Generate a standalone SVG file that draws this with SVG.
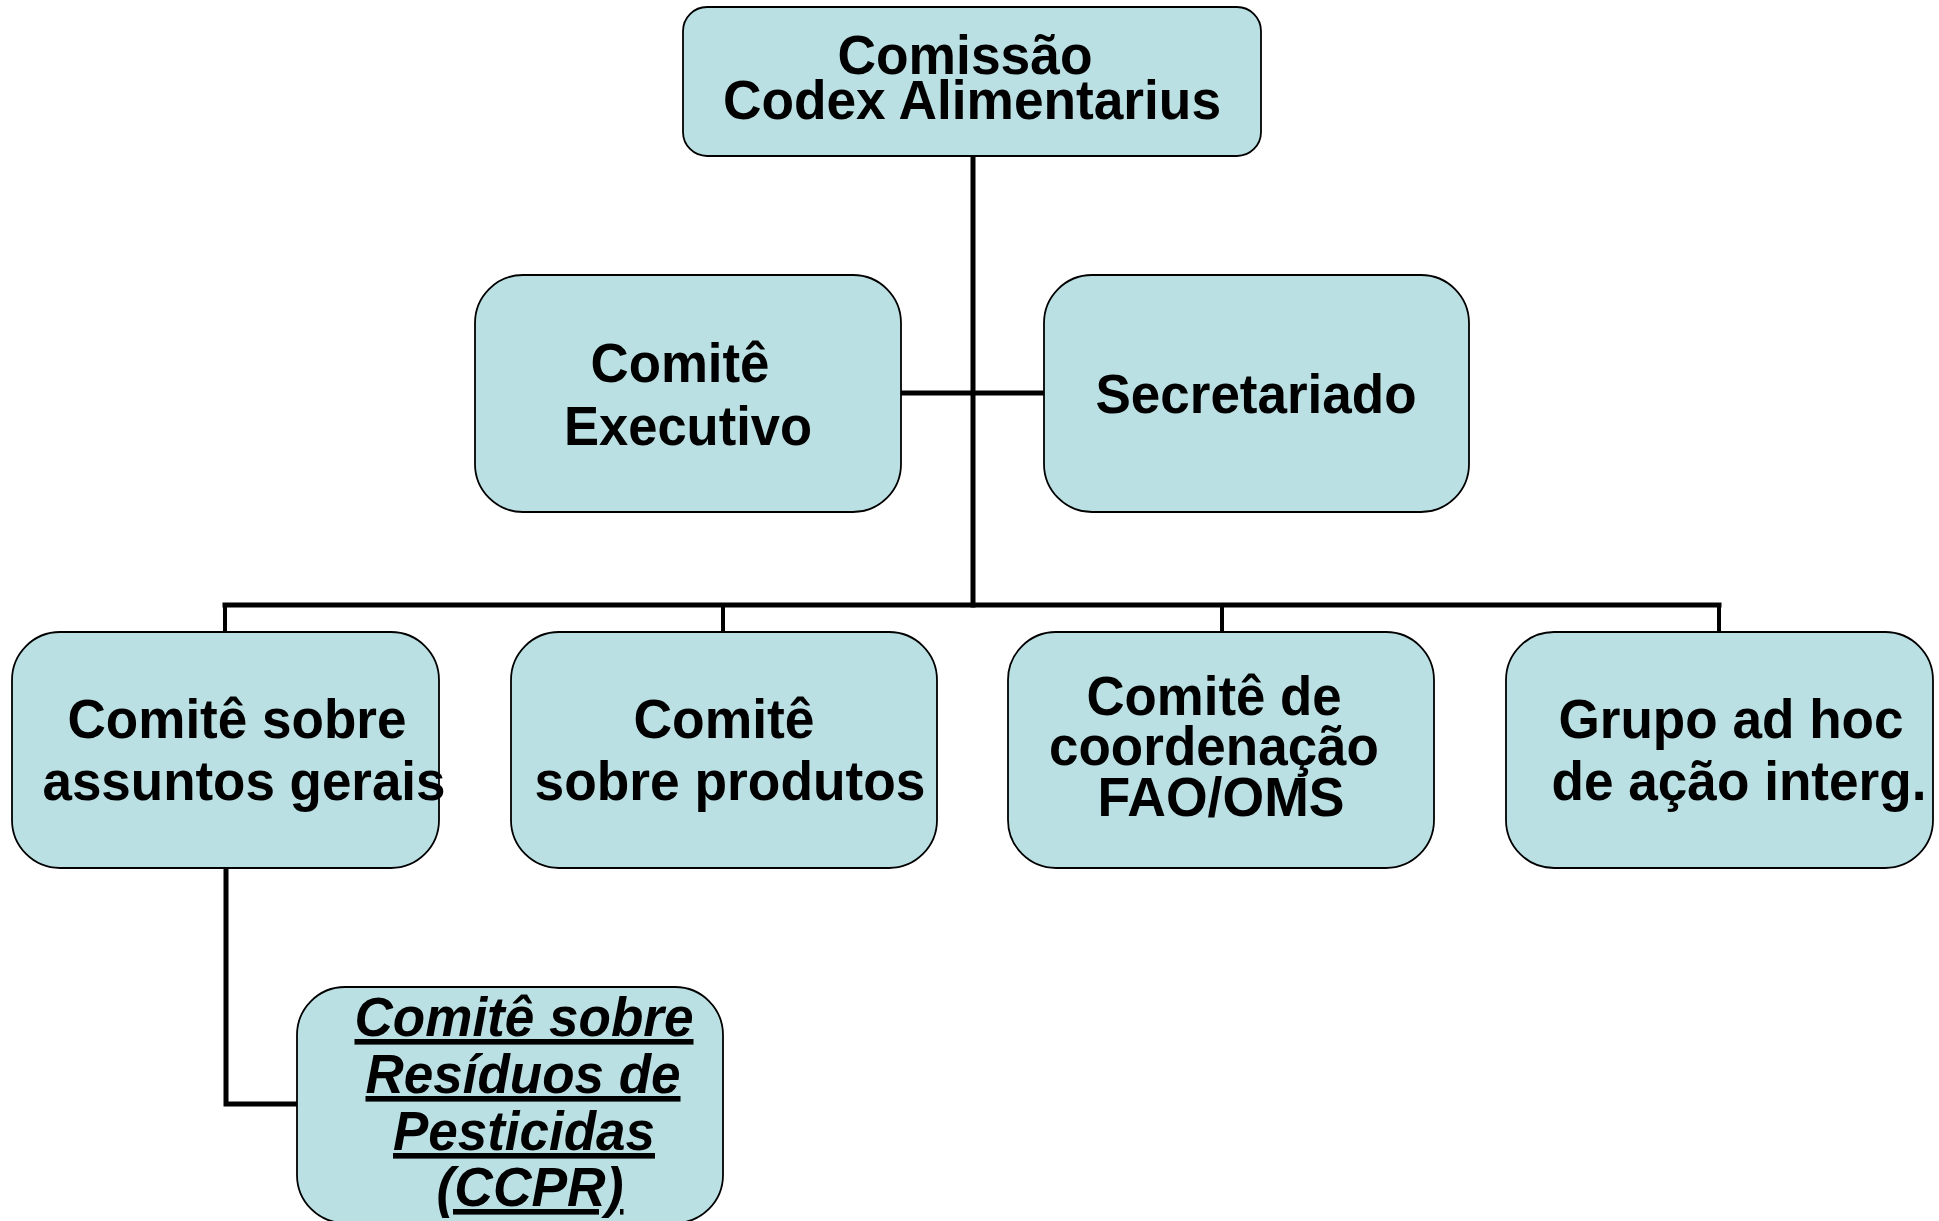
<svg xmlns="http://www.w3.org/2000/svg" width="1939" height="1221" viewBox="0 0 1939 1221">
<style>
.box{fill:#BAE0E3;stroke:#000;stroke-width:1.8}
.t{font-family:"Liberation Sans",Arial,sans-serif;font-weight:bold;font-size:56px;fill:#000}
.it{font-style:italic;text-decoration:underline}
.c{fill:none;stroke:#000;stroke-width:5;stroke-linecap:square}
.d{fill:none;stroke:#000;stroke-width:4}
</style>
<rect width="1939" height="1221" fill="#fff"/>
<g id="connectors">
<path class="c" d="M973 156 V605"/>
<path class="c" d="M901 393 H1044"/>
<path class="c" d="M225 605 H1719"/>
<path class="d" d="M225 605 V632 M723 605 V632 M1222 605 V632 M1719 605 V632"/>
<path class="c" d="M226 868 V1104 H297" stroke-linecap="butt"/>
</g>
<g id="node-comissao">
<rect class="box" x="683" y="7" width="578" height="149" rx="24"/>
<text class="t" x="965" y="74" text-anchor="middle" textLength="255" lengthAdjust="spacingAndGlyphs">Comissão</text>
<text class="t" x="972" y="119" text-anchor="middle" textLength="498" lengthAdjust="spacingAndGlyphs">Codex Alimentarius</text>
</g>
<g id="node-executivo">
<rect class="box" x="475" y="275" width="426" height="237" rx="48"/>
<text class="t" x="680" y="382" text-anchor="middle" textLength="179" lengthAdjust="spacingAndGlyphs">Comitê</text>
<text class="t" x="688" y="445" text-anchor="middle" textLength="248" lengthAdjust="spacingAndGlyphs">Executivo</text>
</g>
<g id="node-secretariado">
<rect class="box" x="1044" y="275" width="425" height="237" rx="48"/>
<text class="t" x="1256" y="413" text-anchor="middle" textLength="321" lengthAdjust="spacingAndGlyphs">Secretariado</text>
</g>
<g id="node-assuntos">
<rect class="box" x="12" y="632" width="427" height="236" rx="48"/>
<text class="t" x="237" y="738" text-anchor="middle" textLength="339" lengthAdjust="spacingAndGlyphs">Comitê sobre</text>
<text class="t" x="244" y="800" text-anchor="middle" textLength="403" lengthAdjust="spacingAndGlyphs">assuntos gerais</text>
</g>
<g id="node-produtos">
<rect class="box" x="511" y="632" width="426" height="236" rx="48"/>
<text class="t" x="724" y="738" text-anchor="middle" textLength="181" lengthAdjust="spacingAndGlyphs">Comitê</text>
<text class="t" x="730" y="800" text-anchor="middle" textLength="391" lengthAdjust="spacingAndGlyphs">sobre produtos</text>
</g>
<g id="node-coordenacao">
<rect class="box" x="1008" y="632" width="426" height="236" rx="48"/>
<text class="t" x="1214" y="715" text-anchor="middle" textLength="255" lengthAdjust="spacingAndGlyphs">Comitê de</text>
<text class="t" x="1214" y="765" text-anchor="middle" textLength="330" lengthAdjust="spacingAndGlyphs">coordenação</text>
<text class="t" x="1221" y="816" text-anchor="middle" textLength="247" lengthAdjust="spacingAndGlyphs">FAO/OMS</text>
</g>
<g id="node-grupo">
<rect class="box" x="1506" y="632" width="427" height="236" rx="48"/>
<text class="t" x="1731" y="738" text-anchor="middle" textLength="345" lengthAdjust="spacingAndGlyphs">Grupo ad hoc</text>
<text class="t" x="1739" y="800" text-anchor="middle" textLength="375" lengthAdjust="spacingAndGlyphs">de ação interg.</text>
</g>
<g id="node-ccpr">
<rect class="box" x="297" y="987" width="426" height="236" rx="48"/>
<text class="t it" x="524" y="1036" text-anchor="middle" textLength="339" lengthAdjust="spacingAndGlyphs">Comitê sobre</text>
<text class="t it" x="523" y="1093" text-anchor="middle" textLength="315" lengthAdjust="spacingAndGlyphs">Resíduos de</text>
<text class="t it" x="524" y="1150" text-anchor="middle" textLength="262" lengthAdjust="spacingAndGlyphs">Pesticidas</text>
<text class="t it" x="530" y="1206" text-anchor="middle" textLength="187" lengthAdjust="spacingAndGlyphs">(CCPR)</text>
</g>
</svg>
